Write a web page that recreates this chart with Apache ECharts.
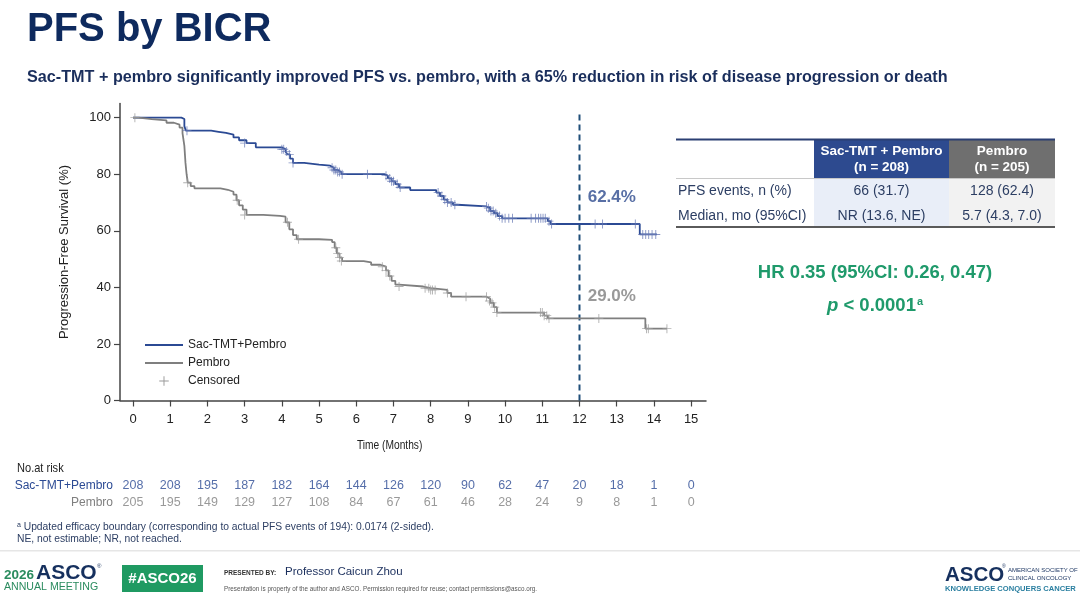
<!DOCTYPE html>
<html>
<head>
<meta charset="utf-8">
<title>PFS by BICR</title>
<script src="https://cdn.jsdelivr.net/npm/echarts@6/dist/echarts.min.js"></script>
<style>
  html, body { margin: 0; padding: 0; background: #fff; }
  #main { width: 1080px; height: 603px; }
</style>
</head>
<body>
<div id="main"></div>
<script>
// --- data ---
const months = [0, 1, 2, 3, 4, 5, 6, 7, 8, 9, 10, 11, 12, 13, 14, 15];
const yTicks = [0, 20, 40, 60, 80, 100];
const riskRows = ['Pembro', 'Sac-TMT+Pembro'];
const riskSac = [208, 208, 195, 187, 182, 164, 144, 126, 120, 90, 62, 47, 20, 18, 1, 0];
const riskPem = [205, 195, 149, 129, 127, 108, 84, 67, 61, 46, 28, 24, 9, 8, 1, 0];

// KM steps [time, survival %]
const sacCurve = [
  [0, 100], [1.3, 99.5], [1.38, 97], [1.42, 95.4], [2.1, 95], [2.3, 94.6], [2.5, 94],
  [2.7, 93], [2.85, 92], [3.05, 91], [3.3, 89.5], [4.0, 88.8], [4.1, 88], [4.15, 87],
  [4.22, 85.5], [4.3, 84], [4.6, 83.4], [5.0, 83], [5.3, 82.3], [5.4, 81.5], [5.5, 80.8],
  [5.6, 80], [6.75, 79.5], [6.85, 78.5], [6.95, 77.5], [7.05, 76.5], [7.15, 75.3],
  [7.45, 74.4], [8.15, 73.5], [8.25, 72.3], [8.35, 71], [8.45, 70], [8.6, 69.2],
  [8.72, 68.6], [9.5, 68], [9.6, 67], [9.7, 66.2], [9.8, 65.2], [9.92, 64.4],
  [11.15, 63.4], [11.22, 62.4], [13.62, 58.7], [14.08, 58.7]
];
const pemCurve = [
  [0, 100], [0.15, 99.5], [0.5, 99], [0.9, 98.2], [1.1, 97.5], [1.25, 96.5], [1.33, 94.5],
  [1.38, 90], [1.41, 84], [1.44, 80], [1.47, 77], [1.55, 75.8], [1.65, 75], [2.35, 74.5],
  [2.55, 73.8], [2.7, 72.8], [2.78, 70.8], [2.85, 69], [2.95, 67.5], [3.05, 65.6],
  [3.5, 65.3], [3.95, 65], [4.1, 63], [4.2, 60.5], [4.3, 58.5], [4.4, 57], [5.0, 56.8],
  [5.35, 56], [5.42, 54], [5.48, 52], [5.55, 50.5], [5.62, 49.3], [6.2, 48.8], [6.4, 48],
  [6.65, 47.3], [6.8, 46], [6.87, 44], [6.95, 42.3], [7.05, 41], [7.15, 40.3], [7.8, 39.7],
  [8.0, 39.1], [8.45, 38], [8.55, 36.7], [9.5, 36], [9.6, 34.5], [9.7, 33], [9.78, 31.1],
  [11.05, 30], [11.15, 29], [13.77, 25.4], [14.35, 25.4]
];
const sacCensor = [
  [1.45, 95.4], [3.0, 91], [4.0, 88.8], [4.05, 88.8], [4.12, 88], [4.2, 87], [4.3, 84],
  [5.35, 82.3], [5.4, 81.5], [5.45, 81.5], [5.5, 80.8], [5.55, 80.8], [5.62, 80], [6.3, 80],
  [6.8, 79.5], [6.9, 78.5], [6.95, 77.5], [7.0, 77.5], [7.1, 76.5], [7.18, 75.3],
  [8.2, 73.5], [8.3, 72.3], [8.38, 71], [8.45, 70], [8.55, 70], [8.65, 69.2],
  [9.5, 68.6], [9.55, 68], [9.62, 67], [9.68, 67], [9.75, 66.2], [9.85, 65.2], [9.92, 64.4],
  [10.0, 64.4], [10.1, 64.4], [10.2, 64.4], [10.7, 64.4], [10.82, 64.4], [10.9, 64.4],
  [10.96, 64.4], [11.02, 64.4], [11.08, 64.4], [11.18, 63.4], [11.25, 62.4],
  [12.42, 62.4], [12.62, 62.4], [13.5, 62.4], [13.7, 58.7], [13.78, 58.7], [13.86, 58.7],
  [13.95, 58.7], [14.05, 58.7]
];
const pemCensor = [
  [0.05, 100], [1.47, 77], [2.8, 70.8], [3.0, 65.6], [4.15, 63], [4.45, 57], [5.45, 54],
  [5.5, 52], [5.55, 50.5], [5.6, 49.3], [6.7, 47.3], [6.8, 46], [6.9, 44], [7.15, 40.3],
  [7.85, 39.7], [7.95, 39.7], [8.0, 39.1], [8.05, 39.1], [8.12, 39.1], [8.45, 38],
  [8.95, 36.7], [9.5, 36.7], [9.58, 35.2], [9.65, 34.5], [9.72, 33], [9.78, 31.1],
  [10.95, 31.1], [11.0, 31.1], [11.05, 30], [11.12, 30], [11.18, 29], [12.52, 29],
  [13.8, 25.4], [13.85, 25.4], [14.35, 25.4]
];
const landmarkMonth = 12;
const landmarkLabels = [['62.4%', 72], ['29.0%', 37]];

const tableHead = [['Sac-TMT + Pembro', '(n = 208)'], ['Pembro', '(n = 205)']];
const tableRows = [
  ['PFS events, n (%)', '66 (31.7)', '128 (62.4)'],
  ['Median, mo (95%CI)', 'NR (13.6, NE)', '5.7 (4.3, 7.0)']
];

const BLUE = '#2b4a94';
const GRAY = '#7f7f7f';
const SANS = "'Liberation Sans', Arial, sans-serif";
const PLUS = 'path://M4.5,0h1v4.5h4.5v1h-4.5v4.5h-1v-4.5h-4.5v-1h4.5z';
// same plus, padded to a 40x10 box so it sits centred under the legend lines
const PLUS_WIDE = 'path://M0,5h0.01v0.01h-0.01z M40,5h0.01v0.01h-0.01z M19.5,0h1v4.5h4.5v1h-4.5v4.5h-1v-4.5h-4.5v-1h4.5z';

const chart = echarts.init(document.getElementById('main'));

// table + slide furniture
const graphics = [];
function txt(x, y, text, font, fill, align, extra) {
  graphics.push(Object.assign({
    type: 'text', x: x, y: y,
    style: { text: text, font: font, fill: fill, align: align || 'left', verticalAlign: 'middle' }
  }, extra || {}));
}
function box(x, y, w, h, fill) {
  graphics.push({ type: 'rect', shape: { x: x, y: y, width: w, height: h }, style: { fill: fill } });
}

txt(27, 30, 'PFS by BICR', 'bold 40px ' + SANS, '#0e2a5e');
txt(27, 78, 'Sac-TMT + pembro significantly improved PFS vs. pembro, with a 65% reduction in risk of disease progression or death',
  'bold 16.2px ' + SANS, '#1a2e5c');

// table
box(814, 140, 135, 38, '#2d4a8f');
box(949, 140, 106, 38, '#6f6f6f');
box(814, 179, 135, 47, '#e9eef8');
box(949, 179, 106, 47, '#f2f2f2');
box(676, 138.5, 379, 2, '#2b3f73');
box(676, 178, 379, 1, '#c8c8c8');
box(676, 226, 379, 2, '#5a5a5a');
const colX = [881.5, 1002];
tableHead.forEach(function (h, i) {
  txt(colX[i], 151, h[0], 'bold 13.5px ' + SANS, '#fff', 'center');
  txt(colX[i], 167, h[1], 'bold 13.5px ' + SANS, '#fff', 'center');
});
tableRows.forEach(function (r, j) {
  const y = 191.5 + j * 24.5;
  txt(678, y, r[0], '14px ' + SANS, '#2c3e63');
  txt(colX[0], y, r[1], '14px ' + SANS, '#2c3e63', 'center');
  txt(colX[1], y, r[2], '14px ' + SANS, '#2c3e63', 'center');
});
txt(875, 273, 'HR 0.35 (95%CI: 0.26, 0.47)', 'bold 18.5px ' + SANS, '#1f9a6b', 'center');
graphics.push({
  type: 'text', x: 875, y: 306,
  style: {
    text: '{i|p} < 0.0001{s|a}', align: 'center', verticalAlign: 'middle',
    font: 'bold 18.5px ' + SANS, fill: '#1f9a6b',
    rich: {
      i: { font: 'italic bold 18.5px ' + SANS, fill: '#1f9a6b' },
      s: { font: 'bold 11px ' + SANS, fill: '#1f9a6b', verticalAlign: 'top', padding: [0, 0, 8, 1] }
    }
  }
});

// axis title, risk table caption, footnotes
txt(357, 446, 'Time (Months)', '12px ' + SANS, '#222', 'left', { scaleX: 0.85 });
txt(17, 468, 'No.at risk', '13px ' + SANS, '#222', 'left', { scaleX: 0.85 });
txt(17, 527, 'ᵃ Updated efficacy boundary (corresponding to actual PFS events of 194): 0.0174 (2-sided).', '10.3px ' + SANS, '#2c3e63');
txt(17, 539.5, 'NE, not estimable; NR, not reached.', '10.3px ' + SANS, '#2c3e63');

// footer
box(0, 550, 1080, 1.5, '#e6e6e6');
txt(4, 575, '2026', 'bold 13.5px ' + SANS, '#2a8b5e');
txt(36, 573, 'ASCO', 'bold 21px ' + SANS, '#16305e');
txt(97, 566, '®', '6px ' + SANS, '#16305e');
txt(4, 587, 'ANNUAL MEETING', '10.6px ' + SANS, '#2a8b5e');
box(122, 565, 81, 27, '#1f9a62');
txt(162.5, 578.5, '#ASCO26', 'bold 15px ' + SANS, '#fff', 'center');
txt(224, 573, 'PRESENTED BY:', 'bold 6.5px ' + SANS, '#333');
txt(285, 572, 'Professor Caicun Zhou', '11.5px ' + SANS, '#1a2e5c');
txt(224, 589, 'Presentation is property of the author and ASCO. Permission required for reuse; contact permissions@asco.org.',
  '6.3px ' + SANS, '#555');
txt(945, 575, 'ASCO', 'bold 20.5px ' + SANS, '#16305e');
txt(1002, 567, '®', '5px ' + SANS, '#16305e');
txt(1008, 570, 'AMERICAN SOCIETY OF', '6px ' + SANS, '#16305e');
txt(1008, 578, 'CLINICAL ONCOLOGY', '6px ' + SANS, '#16305e');
txt(945, 589, 'KNOWLEDGE CONQUERS CANCER', 'bold 7.6px ' + SANS, '#2a7fa0');

function censorSeries(name, data, color) {
  return {
    name: name, type: 'scatter', data: data, symbol: PLUS, symbolSize: 9,
    itemStyle: { color: color }, z: 4, silent: true
  };
}

chart.setOption({
  animation: false,
  backgroundColor: '#fff',
  textStyle: { fontFamily: SANS },
  grid: [
    { left: 120, top: 103.5, width: 586, height: 297 },
    { left: 120, top: 477, width: 586, height: 34 }
  ],
  legend: [
    {
      left: 145, top: 338, padding: 0, orient: 'vertical', icon: 'rect', itemWidth: 38, itemHeight: 2, itemGap: 4,
      selectedMode: false,
      textStyle: { fontSize: 12, lineHeight: 14, color: '#222', fontFamily: SANS },
      data: ['Sac-TMT+Pembro', 'Pembro']
    },
    {
      left: 145, top: 374, padding: 0, orient: 'vertical', itemWidth: 38, itemHeight: 10,
      selectedMode: false,
      textStyle: { fontSize: 12, lineHeight: 14, color: '#222', fontFamily: SANS },
      data: [{ name: 'Censored', icon: PLUS_WIDE }]
    }
  ],
  xAxis: [
    {
      type: 'value', gridIndex: 0, min: -0.35, max: 15.4,
      axisLine: { onZero: false, lineStyle: { color: '#444', width: 1.5 } },
      axisTick: { length: 6, lineStyle: { color: '#444', width: 1.2 }, customValues: months },
      axisLabel: { customValues: months, color: '#222', fontSize: 13, margin: 12 },
      splitLine: { show: false }
    },
    { type: 'value', gridIndex: 1, min: -0.35, max: 15.4, show: false }
  ],
  yAxis: [
    {
      type: 'value', gridIndex: 0, min: 0, max: 105,
      name: 'Progression-Free Survival (%)', nameLocation: 'middle', nameGap: 49, nameRotate: 90,
      nameTextStyle: { fontSize: 13, color: '#222', fontFamily: SANS },
      axisLine: { show: true, onZero: false, lineStyle: { color: '#444', width: 1.5 } },
      axisTick: { show: true, length: 6, lineStyle: { color: '#444', width: 1.2 }, customValues: yTicks },
      axisLabel: { customValues: yTicks, color: '#222', fontSize: 13, margin: 9 },
      splitLine: { show: false }
    },
    {
      type: 'category', gridIndex: 1, data: riskRows,
      axisLine: { show: false }, axisTick: { show: false },
      axisLabel: {
        interval: 0, margin: 7, fontSize: 12,
        formatter: function (v) { return v === 'Pembro' ? '{p|' + v + '}' : '{s|' + v + '}'; },
        rich: {
          p: { color: GRAY, fontSize: 12 },
          s: { color: BLUE, fontSize: 12 }
        }
      }
    }
  ],
  series: [
    {
      name: 'Sac-TMT+Pembro', type: 'line', step: 'end', data: sacCurve, symbol: 'none',
      lineStyle: { color: BLUE, width: 1.8 }, itemStyle: { color: BLUE }, z: 3
    },
    {
      name: 'Pembro', type: 'line', step: 'end', data: pemCurve, symbol: 'none',
      lineStyle: { color: GRAY, width: 1.8 }, itemStyle: { color: GRAY }, z: 3
    },
    censorSeries('Censored', [], GRAY),
    censorSeries('sacCensor', sacCensor, '#6678b4'),
    censorSeries('pemCensor', pemCensor, '#9c9c9c'),
    {
      name: 'landmark', type: 'line', data: [[landmarkMonth, 0], [landmarkMonth, 102.5]],
      symbol: 'none', silent: true, z: 2,
      lineStyle: { color: '#1f4e79', width: 2, type: [6, 4] }
    },
    {
      name: 'landmarkLabels', type: 'scatter', symbolSize: 0, silent: true,
      data: landmarkLabels.map(function (l, i) {
        return {
          value: [landmarkMonth + 0.22, l[1]],
          label: {
            show: true, position: 'right', distance: 0, formatter: l[0],
            fontSize: 17, fontWeight: 'bold', fontFamily: SANS,
            color: i === 0 ? '#2e4b8f' : '#808080'
          }
        };
      })
    },
    {
      name: 'riskSac', type: 'scatter', xAxisIndex: 1, yAxisIndex: 1, symbolSize: 0, silent: true,
      data: months.map(function (m, i) { return [m, 'Sac-TMT+Pembro', riskSac[i]]; }),
      label: { show: true, position: 'inside', formatter: function (p) { return p.value[2]; },
        color: BLUE, fontSize: 12.5 }
    },
    {
      name: 'riskPem', type: 'scatter', xAxisIndex: 1, yAxisIndex: 1, symbolSize: 0, silent: true,
      data: months.map(function (m, i) { return [m, 'Pembro', riskPem[i]]; }),
      label: { show: true, position: 'inside', formatter: function (p) { return p.value[2]; },
        color: GRAY, fontSize: 12.5 }
    }
  ],
  graphic: graphics
});
</script>
</body>
</html>
